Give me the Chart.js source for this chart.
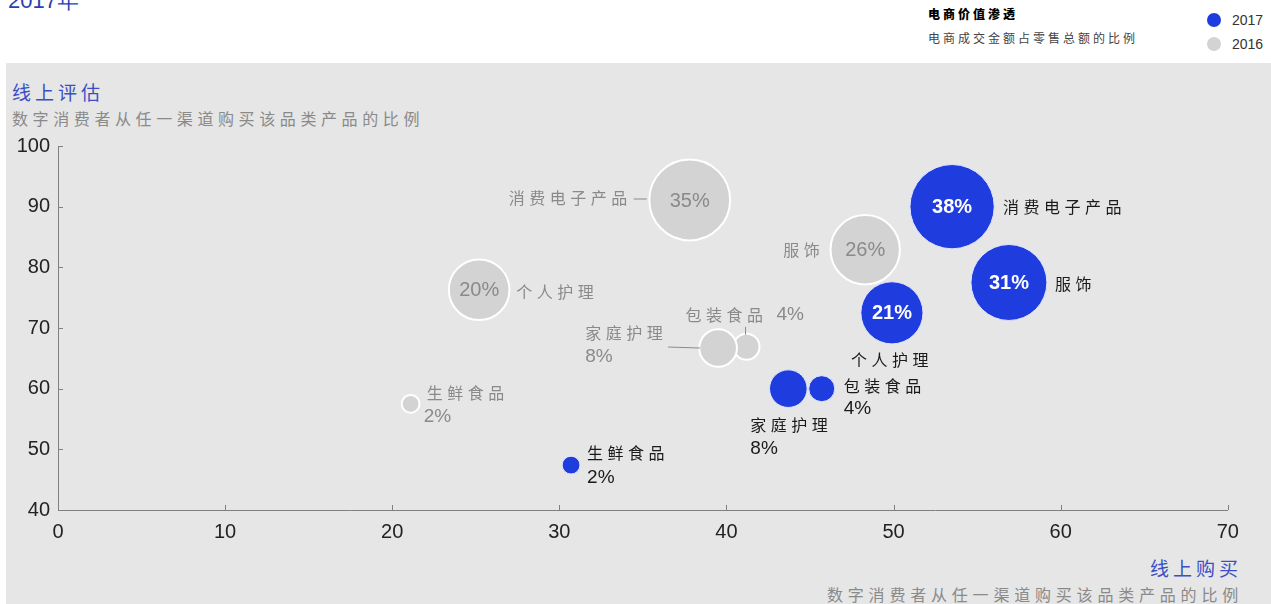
<!DOCTYPE html>
<html>
<head>
<meta charset="utf-8">
<script src="https://cdn.jsdelivr.net/npm/chart.js@4.4.1/dist/chart.umd.min.js"></script>
<style>
    body { margin: 0; width: 1271px; height: 604px; overflow: hidden; background: #fff; position: relative; font-family: "Liberation Sans", Arial, sans-serif; }
    .panel { position: absolute; left: 6px; top: 63px; width: 1265px; height: 541px; background: #e6e6e6; }
    #ec_chart { position: absolute; left: 0; top: 0; }
    .txt { position: absolute; white-space: nowrap; }
    .cjk { font-family: "Noto Sans CJK SC", sans-serif; }
    .year { left: 8px; top: -12px; font-size: 22px; color: #2b3fb5; line-height: 26px; }
    .ytitle { left: 12px; top: 81px; font-size: 19px; line-height: 22px; color: #3b4fc4; letter-spacing: 4px; }
    .ysub { left: 12px; top: 107px; font-size: 16px; line-height: 22px; color: #8a8a8a; letter-spacing: 4.6px; }
    .xtitle { right: 29px; top: 557px; font-size: 19px; line-height: 22px; color: #3b4fc4; letter-spacing: 4px; }
    .xsub { right: 28px; top: 583px; font-size: 16px; line-height: 22px; color: #8a8a8a; letter-spacing: 4.8px; }
    .lg_head { left: 928px; top: 6px; font-size: 12px; line-height: 16px; font-weight: 900; color: #000; letter-spacing: 3px; }
    .lg_sub { left: 928px; top: 30px; font-size: 12px; line-height: 16px; color: #444; letter-spacing: 3px; }
    .lg_dot { position: absolute; width: 14px; height: 14px; border-radius: 7px; }
    .lg_year { font-size: 14px; line-height: 16px; color: #333; }
</style>
</head>
<body>
<div class="panel"></div>
<div class="txt year">2017年</div>
<div class="txt lg_head cjk">电商价值渗透</div>
<div class="txt lg_sub cjk">电商成交金额占零售总额的比例</div>
<div class="lg_dot" style="left:1207px;top:13px;background:#1f3ddf;"></div>
<div class="txt lg_year" style="left:1232px;top:12px;">2017</div>
<div class="lg_dot" style="left:1207px;top:37px;background:#d3d3d3;"></div>
<div class="txt lg_year" style="left:1232px;top:36px;">2016</div>
<div class="txt ytitle cjk">线上评估</div>
<div class="txt ysub cjk">数字消费者从任一渠道购买该品类产品的比例</div>
<div class="txt xtitle cjk">线上购买</div>
<div class="txt xsub cjk">数字消费者从任一渠道购买该品类产品的比例</div>
<canvas id="ec_chart" width="1271" height="604"></canvas>

<script>
    // values
    const categories = ['消费电子产品', '服饰', '个人护理', '包装食品', '家庭护理', '生鲜食品'];

    const online_buy_2017 = [53.5, 56.9, 49.9, 45.7, 43.7, 30.7];
    const online_eval_2017 = [90.0, 77.5, 72.5, 60.0, 60.0, 47.4];
    const share_2017 = [38, 31, 21, 4, 8, 2];

    const online_buy_2016 = [37.8, 48.3, 25.2, 41.2, 39.5, 21.1];
    const online_eval_2016 = [91.1, 82.9, 76.3, 66.9, 66.7, 57.5];
    const share_2016 = [35, 26, 20, 4, 8, 2];

    const x_ticks = [0, 10, 20, 30, 40, 50, 60, 70];
    const y_ticks = [40, 50, 60, 70, 80, 90, 100];

    const color_2017 = '#1f3ddf';
    const color_2016 = '#d3d3d3';

    // label placement per point, offsets from bubble centre: [dx, dy, align]
    // pct 'in' = percentage written inside the bubble
    const label_layout_2017 = [
        { name: [51, 0, 'left'], pct: 'in' },
        { name: [46, 1, 'left'], pct: 'in' },
        { name: [0, 47, 'center'], pct: 'in' },
        { name: [22, -3, 'left'], pct: [22, 20, 'left'] },
        { name: [-38, 36, 'left'], pct: [-38, 60, 'left'] },
        { name: [16, -12, 'left'], pct: [16, 13, 'left'] },
    ];
    const label_layout_2016 = [
        { name: [-58, -2, 'right'], pct: 'in', line: [-56, -1, -43, -1] },
        { name: [-41, 0, 'right'], pct: 'in' },
        { name: [37, 2, 'left'], pct: 'in' },
        { name: [-61, -32, 'left'], pct: [30, -32, 'left'], line: [-1, -20, -1, -12] },
        { name: [-133, -15, 'left'], pct: [-133, 9, 'left'], line: [-50, -1, -18, 0] },
        { name: [16, -11, 'left'], pct: [13, 13, 'left'] },
    ];

    function bubbleRadius(share) {
        return 7 * Math.sqrt(share) - 1;
    }

    function makePoints(xs, ys, shares) {
        return categories.map((c, i) => ({ x: xs[i], y: ys[i], r: bubbleRadius(shares[i]), share: shares[i] }));
    }

    const bubbleLabels = {
        id: 'bubbleLabels',
        afterDatasetsDraw(chart) {
            const ctx = chart.ctx;
            const sets = [
                { idx: 1, layout: label_layout_2016, nameColor: '#8a8a8a', pctColor: '#8a8a8a', inColor: '#8a8a8a', inBold: false },
                { idx: 0, layout: label_layout_2017, nameColor: '#1a1a1a', pctColor: '#1a1a1a', inColor: '#ffffff', inBold: true },
            ];
            sets.forEach(s => {
                const meta = chart.getDatasetMeta(s.idx);
                const shares = chart.data.datasets[s.idx].data.map(d => d.share);
                meta.data.forEach((el, i) => {
                    const lay = s.layout[i];
                    const cx = el.x, cy = el.y;
                    ctx.save();
                    ctx.textBaseline = 'middle';

                    if (lay.line) {
                        ctx.strokeStyle = '#8a8a8a';
                        ctx.lineWidth = 1;
                        ctx.beginPath();
                        ctx.moveTo(cx + lay.line[0], cy + lay.line[1]);
                        ctx.lineTo(cx + lay.line[2], cy + lay.line[3]);
                        ctx.stroke();
                    }

                    ctx.font = '16px "Noto Sans CJK SC"';
                    ctx.letterSpacing = '4.5px';
                    ctx.fillStyle = s.nameColor;
                    ctx.textAlign = lay.name[2];
                    ctx.fillText(categories[i], cx + lay.name[0], cy + lay.name[1]);

                    ctx.letterSpacing = '0px';
                    const pctText = shares[i] + '%';
                    if (lay.pct === 'in') {
                        ctx.font = (s.inBold ? 'bold ' : '') + '20px "Liberation Sans"';
                        ctx.fillStyle = s.inColor;
                        ctx.textAlign = 'center';
                        ctx.fillText(pctText, cx, cy + 1);
                    } else {
                        ctx.font = '19px "Liberation Sans"';
                        ctx.fillStyle = s.pctColor;
                        ctx.textAlign = lay.pct[2];
                        ctx.fillText(pctText, cx + lay.pct[0], cy + lay.pct[1]);
                    }
                    ctx.restore();
                });
            });
        }
    };

    // small inward tick marks on both axes
    const innerTicks = {
        id: 'innerTicks',
        afterDraw(chart) {
            const ctx = chart.ctx;
            const xs = chart.scales.x, ys = chart.scales.y;
            const area = chart.chartArea;
            ctx.save();
            ctx.strokeStyle = '#808080';
            ctx.lineWidth = 1;
            ctx.beginPath();
            x_ticks.forEach(t => {
                const px = Math.round(xs.getPixelForValue(t)) + 0.5;
                ctx.moveTo(px, area.bottom);
                ctx.lineTo(px, area.bottom - 5);
            });
            y_ticks.forEach(t => {
                const py = Math.round(ys.getPixelForValue(t)) + 0.5;
                ctx.moveTo(area.left, py);
                ctx.lineTo(area.left + 5, py);
            });
            ctx.stroke();
            ctx.restore();
        }
    };

    let chartCanvas = document.getElementById('ec_chart').getContext('2d');
    let chartObject = new Chart(chartCanvas, {
        type: 'bubble',
        data: {
            datasets: [{
                label: '2017',
                data: makePoints(online_buy_2017, online_eval_2017, share_2017),
                backgroundColor: color_2017,
                borderColor: '#dfe3ff',
                borderWidth: 1,
            }, {
                label: '2016',
                data: makePoints(online_buy_2016, online_eval_2016, share_2016),
                backgroundColor: color_2016,
                borderColor: '#ffffff',
                borderWidth: 2,
            }],
        },
        options: {
            responsive: false,
            animation: false,
            layout: {
                padding: { left: 0, right: 40, top: 146, bottom: 0 },
            },
            plugins: {
                legend: { display: false },
                tooltip: { enabled: false },
            },
            scales: {
                x: {
                    type: 'linear',
                    min: 0,
                    max: 70,
                    afterBuildTicks: function(scale) {
                        scale.ticks = x_ticks.map(v => ({ value: v }));
                    },
                    afterFit: function(scale) {
                        scale.height = 94;
                    },
                    grid: { display: false, drawTicks: false },
                    border: { display: true, color: '#808080', width: 1 },
                    ticks: {
                        padding: 10,
                        color: '#222',
                        font: { family: 'Liberation Sans', size: 20 },
                    },
                },
                y: {
                    type: 'linear',
                    min: 40,
                    max: 100,
                    afterBuildTicks: function(scale) {
                        scale.ticks = y_ticks.map(v => ({ value: v }));
                    },
                    afterFit: function(scale) {
                        scale.width = 58;
                    },
                    grid: { display: false, drawTicks: false },
                    border: { display: true, color: '#808080', width: 1 },
                    ticks: {
                        padding: 8,
                        color: '#222',
                        font: { family: 'Liberation Sans', size: 20 },
                    },
                },
            },
        },
        plugins: [bubbleLabels, innerTicks],
    });
</script>
</body>
</html>
